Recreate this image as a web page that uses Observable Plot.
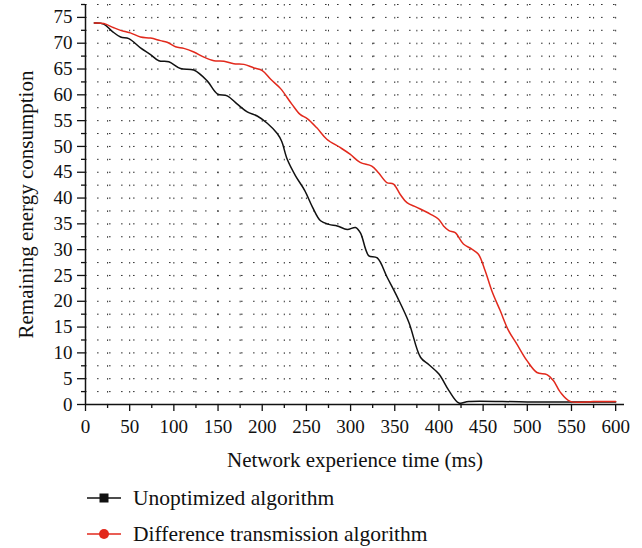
<!DOCTYPE html>
<html>
<head>
<meta charset="utf-8">
<script src="https://cdn.jsdelivr.net/npm/d3@7"></script>
<script src="https://cdn.jsdelivr.net/npm/@observablehq/plot@0.6"></script>
<style>
  body { margin: 0; background: #fff; font-family: 'Liberation Serif', 'Times New Roman', serif; }
  #chart { width: 642px; height: 480px; }
  #legend { padding-left: 87px; }
  .row { height: 36px; display: flex; align-items: center; font-size: 21.5px; color: #111; }
  .row svg { margin-right: 12px; }
  #chart svg, #chart svg text { font-family: 'Liberation Serif', 'Times New Roman', serif !important; }
</style>
</head>
<body>
<div id="chart"></div>
<div id="legend"></div>
<script>
// ---- data ----
const seriesNames = ["Unoptimized algorithm", "Difference transmission algorithm"];
const seriesColors = ["#111111", "#e2291c"];

const unoptTime   = [10, 20.7, 30.2, 39.7, 49, 62.2, 73.6, 83, 94.3, 107.5, 122.6, 137.7, 149.1, 160.4, 171.8, 183, 194.3, 205.7, 217, 222, 228.3, 237.7, 248, 257, 266, 275.5, 284.9, 296.2, 305.7, 311.3, 317, 320.7, 330.2, 341.5, 352.9, 366, 379.3, 388.7, 400, 411.3, 422.6, 433.9, 500, 600];
const unoptEnergy = [73.9, 73.7, 72.3, 71.2, 70.9, 69.1, 67.8, 66.6, 66.4, 65.1, 64.8, 62.7, 60.2, 59.8, 58.2, 56.7, 55.9, 54.5, 52.5, 51, 47.5, 44.3, 41.5, 38.2, 35.6, 34.9, 34.6, 33.9, 34.3, 33.2, 30.1, 28.8, 28.4, 24.6, 20.8, 15.9, 9.1, 7.7, 5.9, 2.7, 0.3, 0.6, 0.5, 0.5];

const diffTime   = [10, 20.7, 32, 43.3, 50.7, 62.2, 73.6, 84.9, 92.4, 101.9, 111.3, 122.6, 134, 145.3, 156.7, 167.9, 179.3, 190.7, 200.1, 209.6, 220.8, 233.5, 242.9, 250.9, 261.8, 273.1, 288.1, 299.4, 310.8, 324, 331.6, 341, 348.6, 356.2, 363.8, 375, 390.2, 399.6, 405.2, 411.3, 418.4, 427.7, 437.2, 444.7, 452.3, 459.9, 469.3, 478.8, 488.2, 499.6, 510.9, 522.2, 529.7, 537.3, 548.6, 575, 600];
const diffEnergy = [73.9, 73.8, 73, 72.3, 72, 71.2, 71, 70.5, 70.2, 69.3, 69, 68.3, 67.3, 66.6, 66.5, 66, 65.9, 65.2, 64.7, 63, 61.2, 58.2, 56.2, 55.4, 53.6, 51.4, 49.8, 48.5, 46.9, 46.2, 44.9, 43, 42.7, 40.7, 39.1, 38.2, 36.9, 35.9, 34.6, 33.7, 33.3, 31.1, 30.1, 29.1, 25.9, 22, 18.2, 14.3, 11.7, 8.5, 6.2, 5.8, 4.6, 2.4, 0.6, 0.6, 0.6];

const xTicks = [0, 50, 100, 150, 200, 250, 300, 350, 400, 450, 500, 550, 600];
const xMinorTicks = [25, 75, 125, 175, 225, 275, 325, 375, 425, 475, 525, 575];
const yTicks = [0, 5, 10, 15, 20, 25, 30, 35, 40, 45, 50, 55, 60, 65, 70, 75];
const yMinorTicks = [2.5, 7.5, 12.5, 17.5, 22.5, 27.5, 32.5, 37.5, 42.5, 47.5, 52.5, 57.5, 62.5, 67.5, 72.5, 77.5];
const xGrid = [25, 50, 75, 100, 125, 150, 175, 200, 225, 250, 275, 300, 325, 350, 375, 400, 425, 450, 475, 500, 525, 550, 575, 600];
const yGrid = [2.5, 5, 7.5, 10, 12.5, 15, 17.5, 20, 22.5, 25, 27.5, 30, 32.5, 35, 37.5, 40, 42.5, 45, 47.5, 50, 52.5, 55, 57.5, 60, 62.5, 65, 67.5, 70, 72.5, 75, 77.5];
const xLabel = "Network experience time (ms)";
const yLabel = "Remaining energy consumption";

// ---- build tables ----
const unopt = unoptTime.map((t, i) => ({t, e: unoptEnergy[i]}));
const diff = diffTime.map((t, i) => ({t, e: diffEnergy[i]}));

const chart = Plot.plot({
  width: 642,
  height: 480,
  marginLeft: 85,
  marginRight: 18,
  marginTop: 4,
  marginBottom: 76,
  style: { fontSize: "19px", color: "#111", background: "#fff" },
  x: { domain: [0, 610] },
  y: { domain: [0, 77.5] },
  marks: [
    Plot.ruleY(yGrid, { stroke: "#111", strokeWidth: 1, strokeDasharray: "1.6,10.4", strokeOpacity: 0.85 }),
    Plot.ruleX(xGrid, { stroke: "#111", strokeWidth: 1, strokeDasharray: "1.6,11.3", strokeOpacity: 0.85 }),
    Plot.line(unopt, { x: "t", y: "e", stroke: seriesColors[0], strokeWidth: 1.5, curve: "catmull-rom" }),
    Plot.line(diff, { x: "t", y: "e", stroke: seriesColors[1], strokeWidth: 1.5, curve: "catmull-rom" }),
    Plot.ruleX([0], { stroke: "#111", strokeWidth: 1.5 }),
    Plot.ruleY([0], { stroke: "#111", strokeWidth: 1.5 }),
    Plot.axisY(yTicks, { tickSize: 8, tickPadding: 5, fontSize: 19, label: null, strokeWidth: 1.3 }),
    Plot.axisY(yMinorTicks, { tickSize: 4, tickFormat: () => "", label: null, strokeWidth: 1.3 }),
    Plot.axisX(xTicks, { tickSize: 7, tickPadding: 8, fontSize: 19, label: null, strokeWidth: 1.3 }),
    Plot.axisX(xMinorTicks, { tickSize: 4, tickFormat: () => "", label: null, strokeWidth: 1.3 }),
    Plot.text([xLabel], { frameAnchor: "bottom", dy: 48, lineAnchor: "top", fontSize: 21, fill: "#111" }),
    Plot.text([yLabel], { frameAnchor: "left", dx: -59, rotate: -90, textAnchor: "middle", lineAnchor: "middle", fontSize: 21, fill: "#111" })
  ]
});
document.getElementById("chart").appendChild(chart);

// ---- legend ----
const legend = document.getElementById("legend");
seriesNames.forEach((name, i) => {
  const row = document.createElement("div");
  row.className = "row";
  const marker = i === 0
    ? `<rect x="12.5" y="2.5" width="9" height="9" fill="${seriesColors[i]}"/>`
    : `<circle cx="17" cy="7" r="5" fill="${seriesColors[i]}"/>`;
  row.innerHTML = `<svg width="34" height="14"><line x1="0" x2="34" y1="7" y2="7" stroke="${seriesColors[i]}" stroke-width="1.5"/>${marker}</svg><span>${name}</span>`;
  legend.appendChild(row);
});
</script>
</body>
</html>
